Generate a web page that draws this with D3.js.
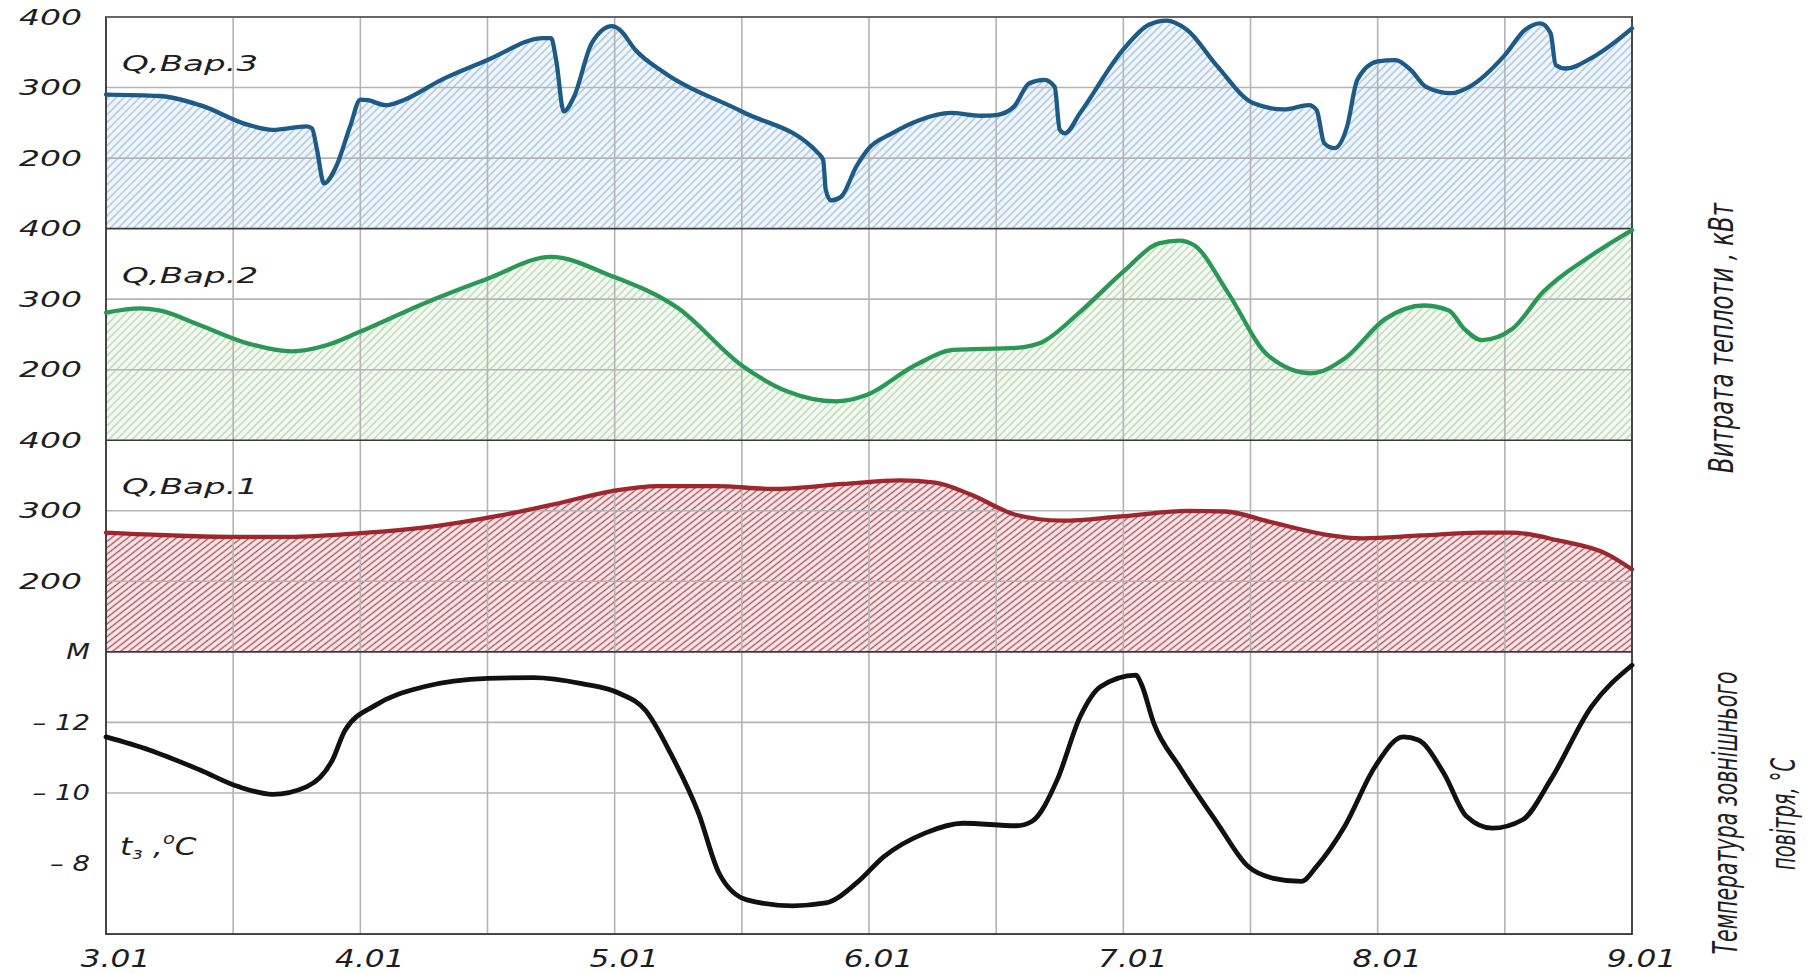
<!DOCTYPE html>
<html>
<head>
<meta charset="utf-8">
<script src="https://cdn.jsdelivr.net/npm/d3@7"></script>
<style>
  body { margin: 0; background: #fff; }
  svg text { font-family: "DejaVu Sans", sans-serif; font-style: italic; fill: #1e1e1e; }
</style>
</head>
<body>
<svg id="chart" width="1810" height="974"></svg>
<script>
// ---- data -------------------------------------------------------------
const dayTicks = [3, 4, 5, 6, 7, 8, 9];
const dayLabels = ["3.01", "4.01", "5.01", "6.01", "7.01", "8.01", "9.01"];
const halfDays = [3.5, 4, 4.5, 5, 5.5, 6, 6.5, 7, 7.5, 8, 8.5];
const qTicks = [400, 300, 200];
const tempTicks = [-14, -12, -10, -8];
const tempTickLabels = ["М", "– 12", "– 10", "– 8"];

// Q, Вар.3 (kW)
const var3Days = [3.0, 3.21, 3.37, 3.56, 3.655, 3.79, 3.81, 3.83, 3.857, 3.905, 3.96, 4.0, 4.03, 4.10, 4.155, 4.33, 4.50, 4.72, 4.75, 4.77, 4.80, 4.84, 4.91, 4.99, 5.02, 5.08, 5.20, 5.50, 5.80, 5.82, 5.83, 5.85, 5.89, 5.95, 6.0, 6.09, 6.20, 6.32, 6.44, 6.50, 6.57, 6.63, 6.69, 6.73, 6.75, 6.77, 6.83, 7.0, 7.10, 7.17, 7.25, 7.37, 7.51, 7.63, 7.73, 7.76, 7.79, 7.83, 7.88, 7.92, 8.0, 8.07, 8.13, 8.19, 8.29, 8.36, 8.50, 8.58, 8.64, 8.68, 8.70, 8.74, 8.85, 9.0];
const var3Q = [290, 288, 275, 247, 240, 245, 242, 211, 164, 188, 245, 283, 282, 275, 280, 313, 339, 370, 370, 339, 266, 287, 363, 387, 382, 354, 320, 266, 207, 197, 155, 140, 145, 188, 214, 235, 254, 264, 260, 261, 273, 306, 311, 301, 240, 235, 264, 354, 389, 395, 382, 330, 278, 269, 275, 268, 221, 214, 245, 311, 337, 339, 325, 301, 292, 301, 346, 382, 391, 377, 332, 327, 344, 384];

// Q, Вар.2 (kW)
const var2Days = [3.0, 3.135, 3.21, 3.37, 3.56, 3.73, 3.87, 4.0, 4.25, 4.50, 4.75, 4.98, 5.25, 5.50, 5.68, 5.87, 5.99, 6.18, 6.33, 6.58, 6.68, 6.83, 7.0, 7.14, 7.22, 7.28, 7.41, 7.57, 7.74, 7.87, 8.03, 8.18, 8.28, 8.34, 8.41, 8.53, 8.65, 8.84, 9.0];
const var2Q = [281, 287, 284, 263, 237, 226, 235, 254, 294, 329, 360, 334, 287, 206, 169, 155, 164, 206, 228, 231, 239, 282, 339, 379, 383, 376, 310, 220, 195, 216, 272, 291, 284, 258, 242, 258, 310, 362, 398];

// Q, Вар.1 (kW)
const var1Days = [3.0, 3.26, 3.49, 3.72, 3.99, 4.31, 4.53, 4.76, 4.99, 5.17, 5.40, 5.62, 5.90, 6.12, 6.26, 6.40, 6.58, 6.76, 6.99, 7.26, 7.40, 7.58, 7.80, 7.94, 8.17, 8.40, 8.53, 8.71, 8.90, 9.0];
const var1Q = [269, 265, 263, 263, 268, 279, 292, 309, 328, 335, 335, 331, 338, 343, 340, 323, 294, 286, 292, 300, 299, 284, 266, 261, 265, 269, 269, 258, 239, 217];

// outdoor air temperature, °C
const tempDays = [3.0, 3.17, 3.37, 3.52, 3.655, 3.79, 3.89, 3.94, 4.06, 4.25, 4.50, 4.68, 4.87, 5.02, 5.12, 5.22, 5.33, 5.41, 5.52, 5.70, 5.83, 5.95, 6.06, 6.22, 6.37, 6.58, 6.64, 6.74, 6.83, 6.91, 7.05, 7.07, 7.12, 7.22, 7.37, 7.49, 7.59, 7.70, 7.76, 7.87, 7.99, 8.10, 8.16, 8.26, 8.35, 8.45, 8.57, 8.68, 8.84, 9.0];
const tempC = [-11.59, -11.22, -10.65, -10.18, -9.96, -10.18, -10.93, -11.78, -12.49, -13.01, -13.25, -13.27, -13.10, -12.82, -12.35, -11.12, -9.42, -7.73, -6.97, -6.80, -6.88, -7.44, -8.20, -8.86, -9.14, -9.07, -9.19, -10.37, -12.16, -13.01, -13.34, -13.10, -11.97, -10.75, -9.14, -7.92, -7.58, -7.49, -7.92, -9.05, -10.75, -11.59, -11.50, -10.56, -9.33, -9.0, -9.24, -10.37, -12.44, -13.62];

// ---- layout -----------------------------------------------------------
const svg = d3.select("#chart");
const plotLeft = 106, plotRight = 1632, plotTop = 17, step = 70.54;
const x = d3.scaleLinear().domain([3, 9]).range([plotLeft, plotRight]);

const panels = [
  { label: "Q,Вар.3", days: var3Days, vals: var3Q, color: "#1c5a88", fill: "hatchBlue" },
  { label: "Q,Вар.2", days: var2Days, vals: var2Q, color: "#2a9855", fill: "hatchGreen" },
  { label: "Q,Вар.1", days: var1Days, vals: var1Q, color: "#9e262c", fill: "hatchRed" }
];
panels.forEach((p, i) => {
  p.y0 = plotTop + i * 3 * step;
  p.y1 = p.y0 + 3 * step;
  p.y = d3.scaleLinear().domain([100, 400]).range([p.y1, p.y0]);
});
const tTop = plotTop + 9 * step, tBottom = plotTop + 13 * step;
const yT = d3.scaleLinear().domain([-14, -6]).range([tTop, tBottom]);

// ---- hatch patterns ---------------------------------------------------
const defs = svg.append("defs");
function addHatch(id, bg, stroke, size, angle, width) {
  const p = defs.append("pattern")
    .attr("id", id)
    .attr("patternUnits", "userSpaceOnUse")
    .attr("width", size).attr("height", size)
    .attr("patternTransform", `rotate(${angle})`);
  p.append("rect").attr("width", size).attr("height", size).attr("fill", bg);
  p.append("line")
    .attr("x1", size / 2).attr("y1", 0).attr("x2", size / 2).attr("y2", size)
    .attr("stroke", stroke).attr("stroke-width", width);
}
addHatch("hatchBlue", "#f0f6fb", "#a3c0d8", 5.5, 45, 1.3);
addHatch("hatchGreen", "#f4f9f2", "#b6d5b2", 5.5, 45, 1.3);
addHatch("hatchRed", "#fbe8ea", "#a8565d", 5, 52, 1.4);

// ---- hatched areas ----------------------------------------------------
panels.forEach(p => {
  const pts = p.days.map((d, i) => [d, p.vals[i]]);
  const area = d3.area()
    .x(d => x(d[0]))
    .y0(p.y1)
    .y1(d => p.y(d[1]))
    .curve(d3.curveMonotoneX);
  svg.append("path").datum(pts).attr("d", area).attr("fill", `url(#${p.fill})`);
});

// ---- grid -------------------------------------------------------------
const grid = svg.append("g");
grid.selectAll("line.v").data(halfDays).join("line")
  .attr("x1", d => x(d)).attr("x2", d => x(d))
  .attr("y1", plotTop).attr("y2", tBottom)
  .attr("stroke", "#b4b4b4").attr("stroke-width", 1.6);

const hRows = d3.range(1, 13).filter(i => i % 3 !== 0);
grid.selectAll("line.h").data(hRows).join("line")
  .attr("x1", plotLeft).attr("x2", plotRight)
  .attr("y1", i => plotTop + i * step).attr("y2", i => plotTop + i * step)
  .attr("stroke", "#b4b4b4").attr("stroke-width", 1.6);

// panel separators and frame
grid.selectAll("line.sep").data([3, 6, 9]).join("line")
  .attr("x1", plotLeft).attr("x2", plotRight)
  .attr("y1", i => plotTop + i * step).attr("y2", i => plotTop + i * step)
  .attr("stroke", "#3a3a3a").attr("stroke-width", 1.6);
grid.append("rect")
  .attr("x", plotLeft).attr("y", plotTop)
  .attr("width", plotRight - plotLeft).attr("height", tBottom - plotTop)
  .attr("fill", "none").attr("stroke", "#333").attr("stroke-width", 1.8);
grid.append("line").attr("x1", plotLeft).attr("x2", plotRight).attr("y1", plotTop).attr("y2", plotTop)
  .attr("stroke", "#666").attr("stroke-width", 1.8);

// ---- curves -----------------------------------------------------------
panels.forEach(p => {
  const pts = p.days.map((d, i) => [d, p.vals[i]]);
  const line = d3.line().x(d => x(d[0])).y(d => p.y(d[1])).curve(d3.curveMonotoneX);
  svg.append("path").datum(pts).attr("d", line)
    .attr("fill", "none").attr("stroke", p.color)
    .attr("stroke-width", 4.3).attr("stroke-linejoin", "round").attr("stroke-linecap", "round");
});
const tPts = tempDays.map((d, i) => [d, tempC[i]]);
svg.append("path").datum(tPts)
  .attr("d", d3.line().x(d => x(d[0])).y(d => yT(d[1])).curve(d3.curveMonotoneX))
  .attr("fill", "none").attr("stroke", "#111")
  .attr("stroke-width", 4.8).attr("stroke-linejoin", "round").attr("stroke-linecap", "round");

// ---- text helpers -----------------------------------------------------
function stretch(sel, f) {
  sel.each(function () {
    const w = this.getComputedTextLength();
    d3.select(this).attr("textLength", w * f).attr("lengthAdjust", "spacingAndGlyphs");
  });
}

// ---- axes -------------------------------------------------------------
panels.forEach(p => {
  const ax = svg.append("g").attr("transform", `translate(${plotLeft},0)`)
    .call(d3.axisLeft(p.y).tickValues(qTicks).tickSize(0).tickPadding(24));
  ax.select(".domain").remove();
  ax.selectAll("text").attr("font-size", 22).attr("font-family", null);
  stretch(ax.selectAll("text"), 1.5);
});
const axT = svg.append("g").attr("transform", `translate(${plotLeft},0)`)
  .call(d3.axisLeft(yT).tickValues(tempTicks).tickSize(0).tickPadding(16)
    .tickFormat((d, i) => tempTickLabels[i]));
axT.select(".domain").remove();
axT.selectAll("text").attr("font-size", 22).attr("font-family", null);
stretch(axT.selectAll("text"), 1.25);

const axX = svg.append("g").attr("transform", `translate(0,${tBottom})`)
  .call(d3.axisBottom(x).tickValues(dayTicks).tickSize(0).tickPadding(16)
    .tickFormat((d, i) => dayLabels[i]));
axX.select(".domain").remove();
axX.selectAll("text").attr("font-size", 24).attr("font-family", null).attr("x", 9);
stretch(axX.selectAll("text"), 1.3);

// ---- panel labels -----------------------------------------------------
panels.forEach(p => {
  const t = svg.append("text").attr("x", 122).attr("y", p.y0 + 54)
    .attr("font-size", 22).text(p.label);
  stretch(t, 1.55);
});
const tl = svg.append("text").attr("transform", "translate(120,855) scale(1.3,1)").attr("font-size", 24);
tl.append("tspan").text("t");
tl.append("tspan").attr("font-size", 15).attr("dy", 4).text("з");
tl.append("tspan").attr("dy", -4).attr("dx", 8).text(",");
tl.append("tspan").attr("font-size", 15).attr("dy", -11).text("o");
tl.append("tspan").attr("dy", 11).text("C");

// ---- right-hand titles ------------------------------------------------
svg.append("text")
  .attr("transform", "translate(1733,338) rotate(-90)")
  .attr("text-anchor", "middle").attr("font-size", 34)
  .attr("textLength", 270).attr("lengthAdjust", "spacingAndGlyphs")
  .text("Витрата теплоти , кВт");
svg.append("text")
  .attr("transform", "translate(1737,813) rotate(-90)")
  .attr("text-anchor", "middle").attr("font-size", 34)
  .attr("textLength", 283).attr("lengthAdjust", "spacingAndGlyphs")
  .text("Температура зовнішнього");
svg.append("text")
  .attr("transform", "translate(1795,814) rotate(-90)")
  .attr("text-anchor", "middle").attr("font-size", 34)
  .attr("textLength", 112).attr("lengthAdjust", "spacingAndGlyphs")
  .text("повітря, °С");
</script>
</body>
</html>
